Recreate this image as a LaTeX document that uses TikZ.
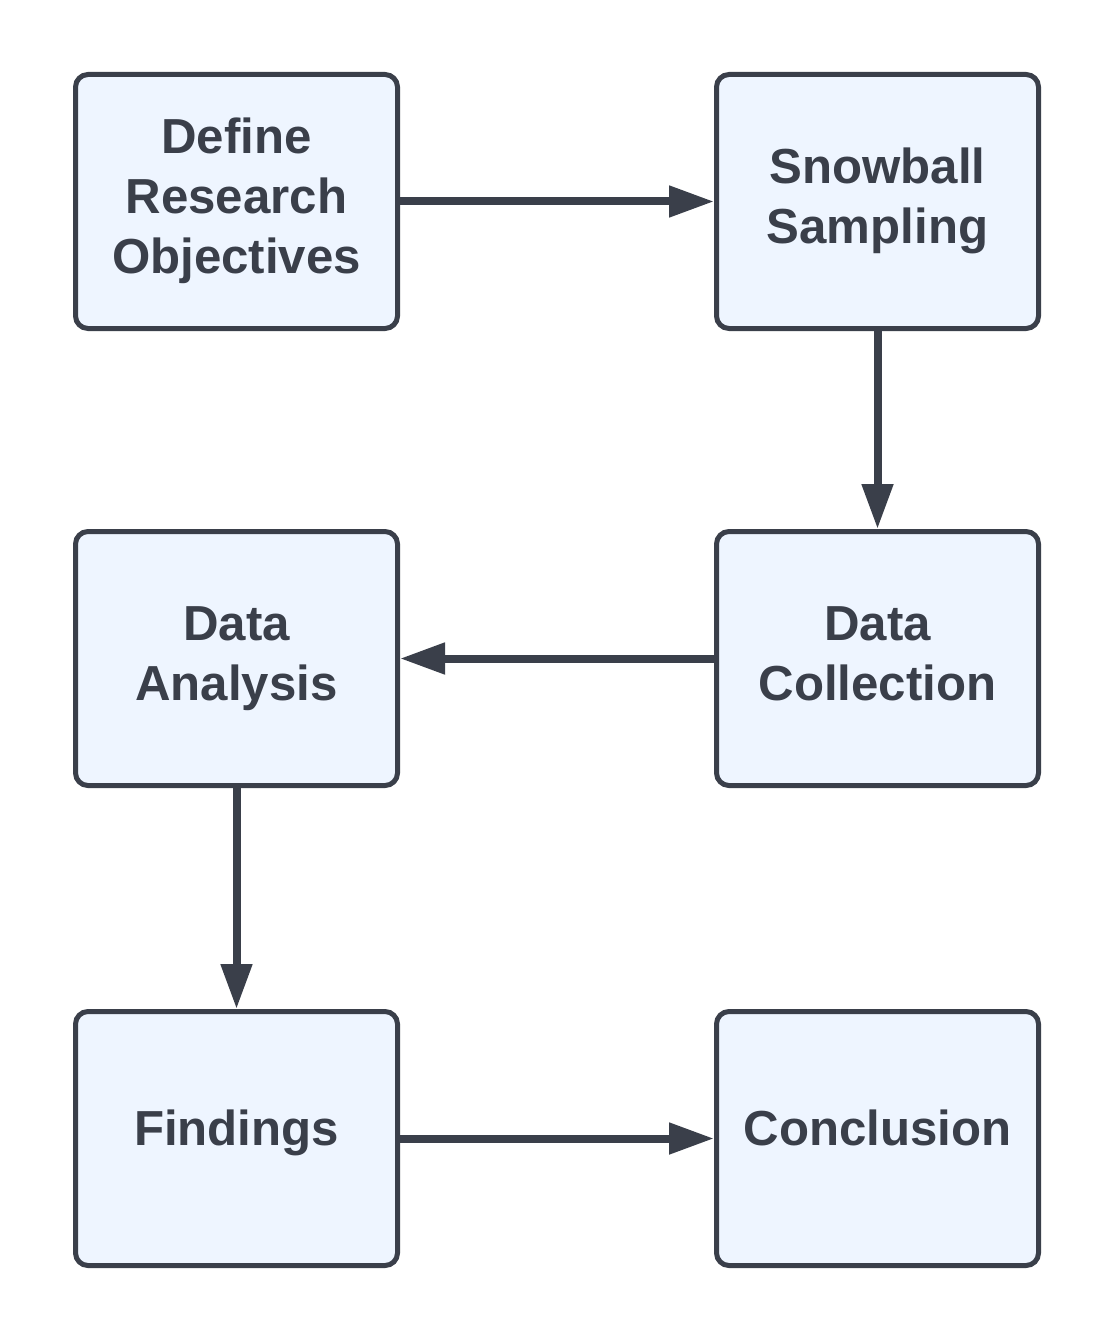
\documentclass[tikz,border=0pt]{standalone}
\usepackage{fontspec}
\setmainfont{Liberation Sans}
\usetikzlibrary{arrows.meta}
\definecolor{linegray}{HTML}{3A3F4A}
\definecolor{boxfill}{HTML}{EEF5FF}
\newcommand{\liftlabel}[1]{\raisebox{0.1cm}[\height][\depth]{#1\strut}}
\newcommand{\stacklabel}[1]{\begin{tabular}{@{}c@{}}#1\end{tabular}}
\tikzset{
  stepbox/.style={draw=linegray, fill=boxfill, line width=0.1cm, rounded corners=0.25cm,
    minimum width=6.44cm, minimum height=5.08cm, align=center, text=linegray,
    font=\fontsize{28}{34}\selectfont\bfseries},
  flow/.style={draw=linegray, line width=0.16cm, -{Triangle[length=0.9cm, width=0.6cm]}}
}
\begin{document}
\begin{tikzpicture}
\useasboundingbox (0,0) rectangle (22.32,-26.82);

\node[stepbox] (objectives) at (4.73,-4.03) {\stacklabel{Define\\Research\\Objectives}};
\node[stepbox] (sampling) at (17.55,-4.03) {\stacklabel{Snowball\\Sampling}};
\node[stepbox] (collection) at (17.55,-13.17) {\stacklabel{Data\\Collection}};
\node[stepbox] (analysis) at (4.73,-13.17) {\stacklabel{Data\\Analysis}};
\node[stepbox] (findings) at (4.73,-22.77) {\liftlabel{Findings}};
\node[stepbox] (conclusion) at (17.55,-22.77) {\liftlabel{Conclusion}};

\draw[flow] (objectives) -- (sampling);
\draw[flow] (sampling) -- (collection);
\draw[flow] (collection) -- (analysis);
\draw[flow] (analysis) -- (findings);
\draw[flow] (findings) -- (conclusion);

\end{tikzpicture}
\end{document}
